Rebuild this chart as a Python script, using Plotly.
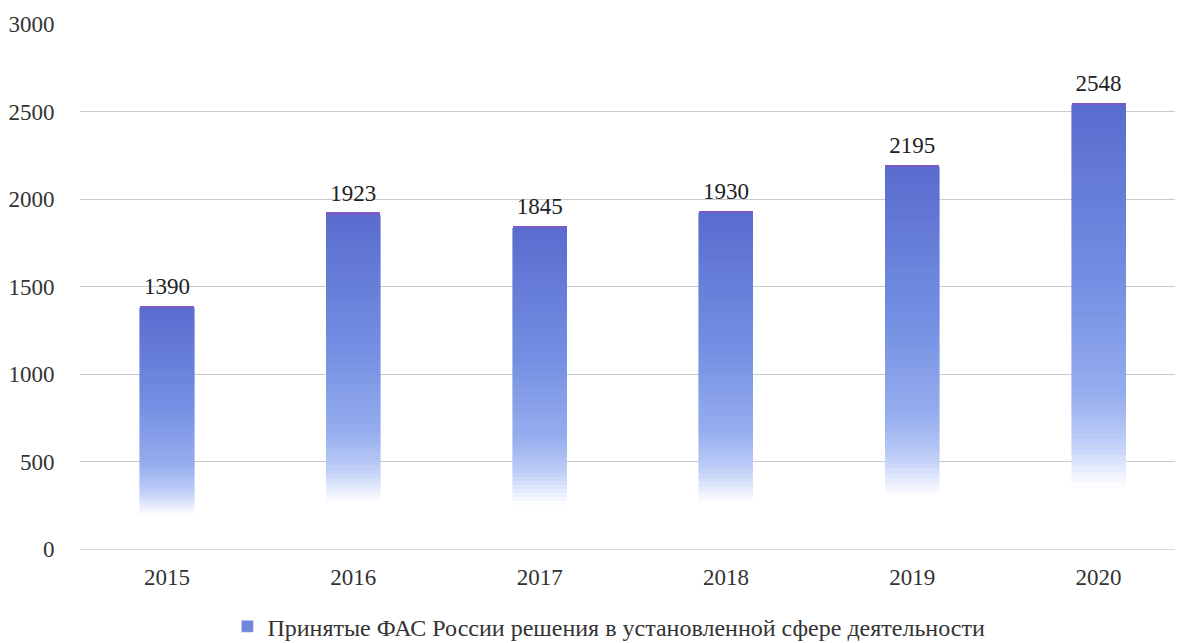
import plotly.graph_objects as go

years = ["2015", "2016", "2017", "2018", "2019", "2020"]
decisions = [1390, 1923, 1845, 1930, 2195, 2548]
y_ticks = [0, 500, 1000, 1500, 2000, 2500, 3000]
series_name = "Принятые ФАС России решения в установленной сфере деятельности"

FONT = "Liberation Serif"
Y_MAX = 3000
LABEL_LIFT = 35  # value units the label layer is lifted by (~6 px)

# vertical gradient stops (fraction of bar height -> colour)
stops = [
    (0.00, (255, 255, 255)),
    (0.14, (255, 255, 255)),
    (0.24, (190, 206, 247)),
    (0.35, (150, 173, 238)),
    (0.60, (115, 143, 226)),
    (1.00, (90, 108, 207)),
]


def colour_at(t):
    for (t0, c0), (t1, c1) in zip(stops[:-1], stops[1:]):
        if t0 <= t <= t1:
            f = 0 if t1 == t0 else (t - t0) / (t1 - t0)
            r, g, b = (round(a + (bb - a) * f) for a, bb in zip(c0, c1))
            return f"rgb({r},{g},{b})"
    r, g, b = stops[-1][1]
    return f"rgb({r},{g},{b})"


N = 80
TOP_EDGE = 12  # thin purple cap
fig = go.Figure()
for k in range(N):
    t = (k + 0.5) / N
    col = colour_at(t)
    seg = [(v - TOP_EDGE) / N for v in decisions]
    fig.add_trace(go.Bar(
        x=years, y=seg, width=0.29,
        marker=dict(color=col, line=dict(color=col, width=0.6)),
        showlegend=False, hoverinfo="skip",
    ))
fig.add_trace(go.Bar(
    x=years, y=[TOP_EDGE] * len(years), width=0.29,
    marker=dict(color="#7c5ac6", line=dict(width=0)),
    showlegend=False, hoverinfo="skip",
))
# legend entry
fig.add_trace(go.Bar(
    x=[None], y=[None], name=series_name,
    marker=dict(color="#7086da"), showlegend=True,
))
# value labels (on an overlaid axis lifted by a few pixels)
fig.add_trace(go.Scatter(
    x=years, y=decisions, mode="text", text=[str(v) for v in decisions],
    textposition="top center", cliponaxis=False, yaxis="y2",
    textfont=dict(family=FONT, size=23, color="#222222"),
    showlegend=False, hoverinfo="skip",
))

fig.update_layout(
    width=1178, height=635,
    barmode="stack",
    paper_bgcolor="white", plot_bgcolor="white",
    margin=dict(l=72, r=11, t=16, b=94, autoexpand=False),
    font=dict(family=FONT, size=23, color="#333333"),
    legend=dict(
        orientation="h", x=0.483, xanchor="center", y=-0.148, yanchor="middle",
        font=dict(family=FONT, size=24, color="#333333"),
    ),
    xaxis=dict(
        type="category", range=[-0.467, 5.41], showgrid=False, showline=False,
        ticks="outside", ticklen=7, tickcolor="rgba(0,0,0,0)",
        tickfont=dict(family=FONT, size=23, color="#333333"),
    ),
    yaxis=dict(
        range=[0, Y_MAX], tickvals=y_ticks, ticktext=[str(t) for t in y_ticks],
        showgrid=True, gridcolor="#cacaca", gridwidth=1,
        zeroline=True, zerolinecolor="#d8d8d8", zerolinewidth=1,
        showline=False, ticks="outside", ticklen=20, tickcolor="rgba(0,0,0,0)",
        tickfont=dict(family=FONT, size=23, color="#333333"),
    ),
    yaxis2=dict(
        overlaying="y", range=[-LABEL_LIFT, Y_MAX - LABEL_LIFT],
        visible=False, showgrid=False, zeroline=False,
    ),
)

fig.write_html("out.html")
